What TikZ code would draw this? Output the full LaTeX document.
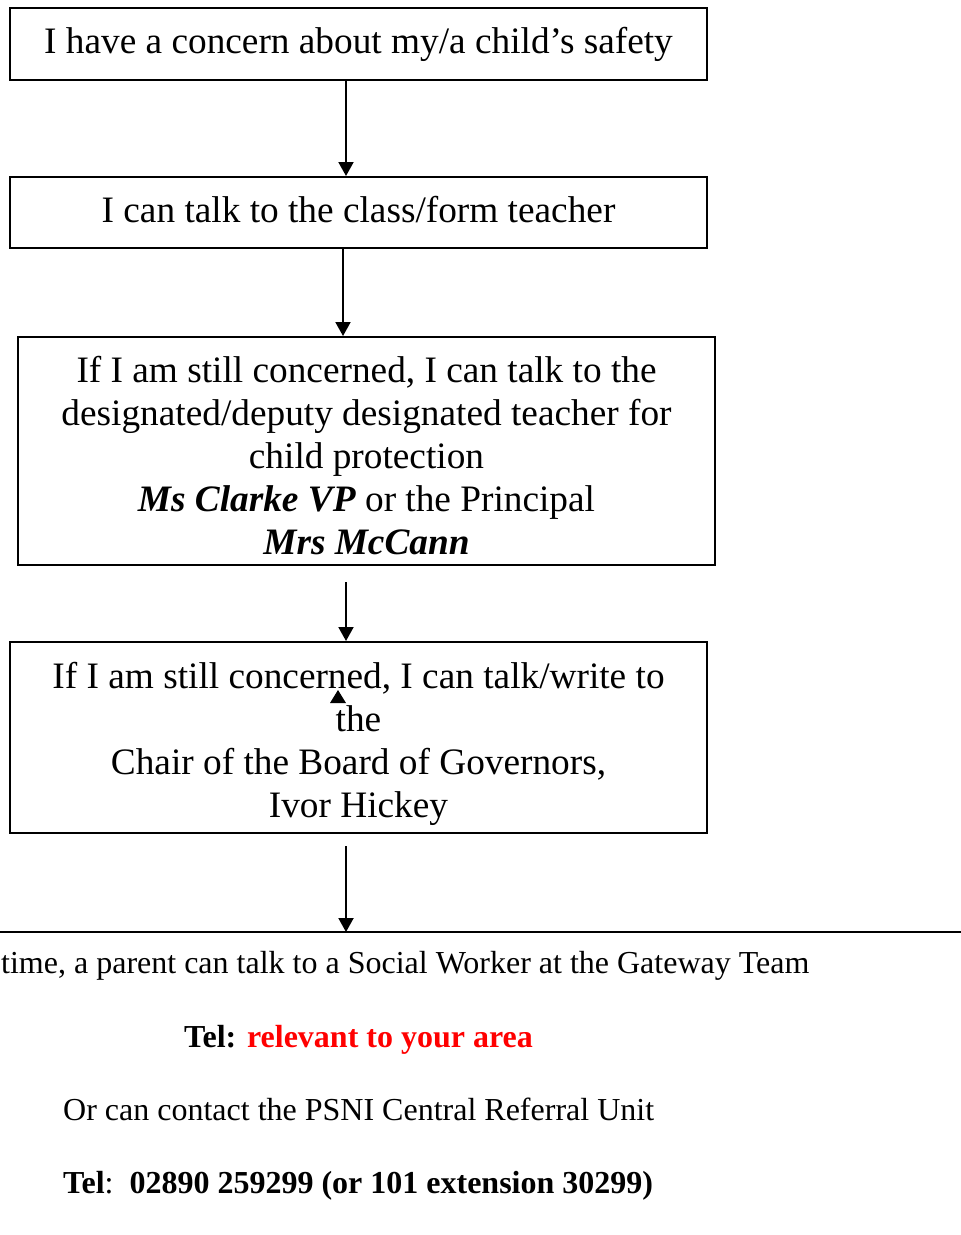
\documentclass[tikz,border=0pt]{standalone}
\usepackage{fontspec}
\setmainfont{Liberation Serif}
\usetikzlibrary{arrows.meta}
\begin{document}
\begin{tikzpicture}[x=1pt,y=-1pt,
  box/.style={draw, line width=2pt, inner sep=0pt, font=\fontsize{37.3}{43}\selectfont, align=center},
  btxt/.style={inner sep=0pt, font=\fontsize{37.3}{43}\selectfont, align=center},
  ltxt/.style={inner sep=0pt, anchor=base west, font=\fontsize{32}{38}\selectfont},
  flow/.style={line width=2pt, -{Triangle[length=14pt,width=15pt]}}]
\useasboundingbox (0,0) rectangle (961,1235);
% boxes
\node[box, minimum width=697, minimum height=72] (b1) at (358.5,44) {I have a concern about my/a child’s safety};
\node[box, minimum width=697, minimum height=71] (b2) at (358.5,212.5) {};
\node[btxt] (t2) at (358.5,209.5) {I can talk to the class/form teacher};
\node[box, minimum width=697, minimum height=228] (b3) at (366.5,451) {};
\node[btxt] (t3) at (366.5,456) {If I am still concerned, I can talk to the\\designated/deputy designated teacher for\\child protection\\\textbf{\textit{Ms Clarke VP}} or the Principal\\\textbf{\textit{Mrs McCann}}};
\node[box, minimum width=697, minimum height=191] (b4) at (358.5,737.5) {};
\node[btxt] (t4) at (358.5,743.5) {If I am still concerned, I can talk/write to\\the\\Chair of the Board of Governors,\\Ivor Hickey};
% free ends
\coordinate (s3) at (346,582);
\coordinate (s4) at (346,846);
\coordinate (e4) at (346,932);
\coordinate (la) at (0,932);
\coordinate (lb) at (961,932);
% connectors
\draw[flow] (b1.south -| 346,0) -- (b2.north -| 346,0);
\draw[flow] (b2.south -| 343,0) -- (b3.north -| 343,0);
\draw[flow] (s3) -- (b4.north -| s3);
\draw[flow] (s4) -- (e4);
\draw[line width=2.5pt] (la) -- (lb);
% stray arrowhead
\fill (338,690) -- (330,703) -- (346,703) -- cycle;
% bottom texts
\node[ltxt] (l1) at (1,973) {time, a parent can talk to a Social Worker at the Gateway Team};
\node[ltxt] (l2) at (184,1047) {\textbf{Tel: \textcolor{red}{relevant to your area}}};
\node[ltxt] (l3) at (63,1120) {Or can contact the PSNI Central Referral Unit};
\node[ltxt] (l4) at (63,1193) {\textbf{Tel}:\ \ \textbf{02890 259299 (or 101 extension 30299)}};
\end{tikzpicture}
\end{document}
